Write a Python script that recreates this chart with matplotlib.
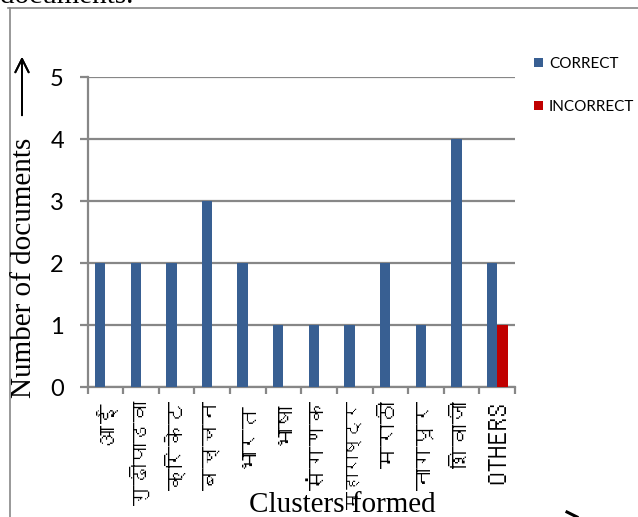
import matplotlib
matplotlib.use('Agg')
import matplotlib.pyplot as plt
from matplotlib import font_manager
from matplotlib.ft2font import FT2Font
from matplotlib.lines import Line2D
import numpy as np

clusters = ['आई', 'गुढीपाडवा', 'क्रिकेट', 'बच्चन', 'भारत', 'भाषा', 'संगणक',
            'महाराष्ट्र', 'मराठी', 'नागपूर', 'शिवाजी', 'OTHERS']
correct = [2, 2, 2, 3, 2, 1, 1, 1, 2, 1, 4, 2]
incorrect = [0, 0, 0, 0, 0, 0, 0, 0, 0, 0, 0, 1]
yticks = [0, 1, 2, 3, 4, 5]


def find_font(char):
    # look for any installed font that has the glyph
    for f in font_manager.fontManager.ttflist:
        try:
            if ord(char) in FT2Font(f.fname).get_charmap():
                return f.name
        except Exception:
            pass
    return None


deva = find_font('आ')
sans = 'Lato'
serif = 'Liberation Serif'
label_family = [deva, sans] if deva else [sans]

blue = '#385f92'
red = '#c00000'
grid = '#878787'

fig = plt.figure(figsize=(6.38, 5.17), dpi=100)
ax = fig.add_axes([87.5 / 638, 1 - 387 / 517, (515 - 87.5) / 638, (387 - 77) / 517])

x = np.arange(len(clusters))
w = 0.29
ax.bar(x - w / 2, correct, w, color=blue, label='CORRECT', zorder=3)
ax.bar(x + w / 2, incorrect, w, color=red, label='INCORRECT', zorder=3)

ax.set_xlim(-0.5, len(clusters) - 0.5)
ax.set_ylim(0, 5)
ax.set_yticks(yticks)
ax.yaxis.grid(True, color=grid, lw=1.6, zorder=0)
ax.set_axisbelow(True)

for s in ['top', 'right']:
    ax.spines[s].set_visible(False)
for s in ['left', 'bottom']:
    ax.spines[s].set_color(grid)
    ax.spines[s].set_linewidth(1.6)

ax.set_xticks(x)
ax.set_xticklabels(clusters, rotation=90, family=label_family, fontsize=16)
labels = ax.get_xticklabels()
labels[-1].set_fontsize(20)
labels[1].set_fontsize(15)
labels[7].set_fontsize(13)  # long one, keep it off the axis title
ax.set_xticks(np.arange(-0.5, len(clusters)), minor=True)
ax.tick_params(axis='x', which='major', length=0, pad=10)
ax.tick_params(axis='x', which='minor', length=5, width=1.6, color=grid)
ax.tick_params(axis='y', length=6, width=1.6, color=grid, pad=11, labelsize=17)
for t in ax.get_yticklabels():
    t.set_family(sans)

leg = fig.legend(loc='upper left', bbox_to_anchor=(520 / 638, 1 - 43 / 517),
                 frameon=False, handlelength=0.6, handleheight=0.6,
                 handletextpad=0.4, labelspacing=1.9,
                 prop={'family': sans, 'size': 11})

fig.text(342 / 638, 1 - 512 / 517, 'Clusters formed', family=serif, fontsize=21,
         ha='center', va='baseline')
fig.text(24 / 638, 1 - 268 / 517, 'Number of documents', family=serif, fontsize=21,
         ha='center', va='center', rotation=90)
fig.text(0, 1 - 3 / 517, 'documents.', family=serif, fontsize=21, va='baseline')

# page frame
fig.add_artist(Line2D([8 / 638, 1], [1 - 8 / 517] * 2, color=grid, lw=1.2))
fig.add_artist(Line2D([10 / 638] * 2, [1 - 8 / 517, 0], color=grid, lw=1.2))

# arrows
fig.add_artist(plt.annotate('', xy=(22 / 638, 1 - 54 / 517), xytext=(22 / 638, 1 - 118 / 517),
                            xycoords='figure fraction',
                            arrowprops=dict(arrowstyle='->', color='black', lw=1.4,
                                            mutation_scale=24)))
fig.add_artist(Line2D([567 / 638, 577 / 638], [1 - 512 / 517, 1 - 517 / 517],
                      color='black', lw=2.2))

fig.savefig('out.png', dpi=100)
